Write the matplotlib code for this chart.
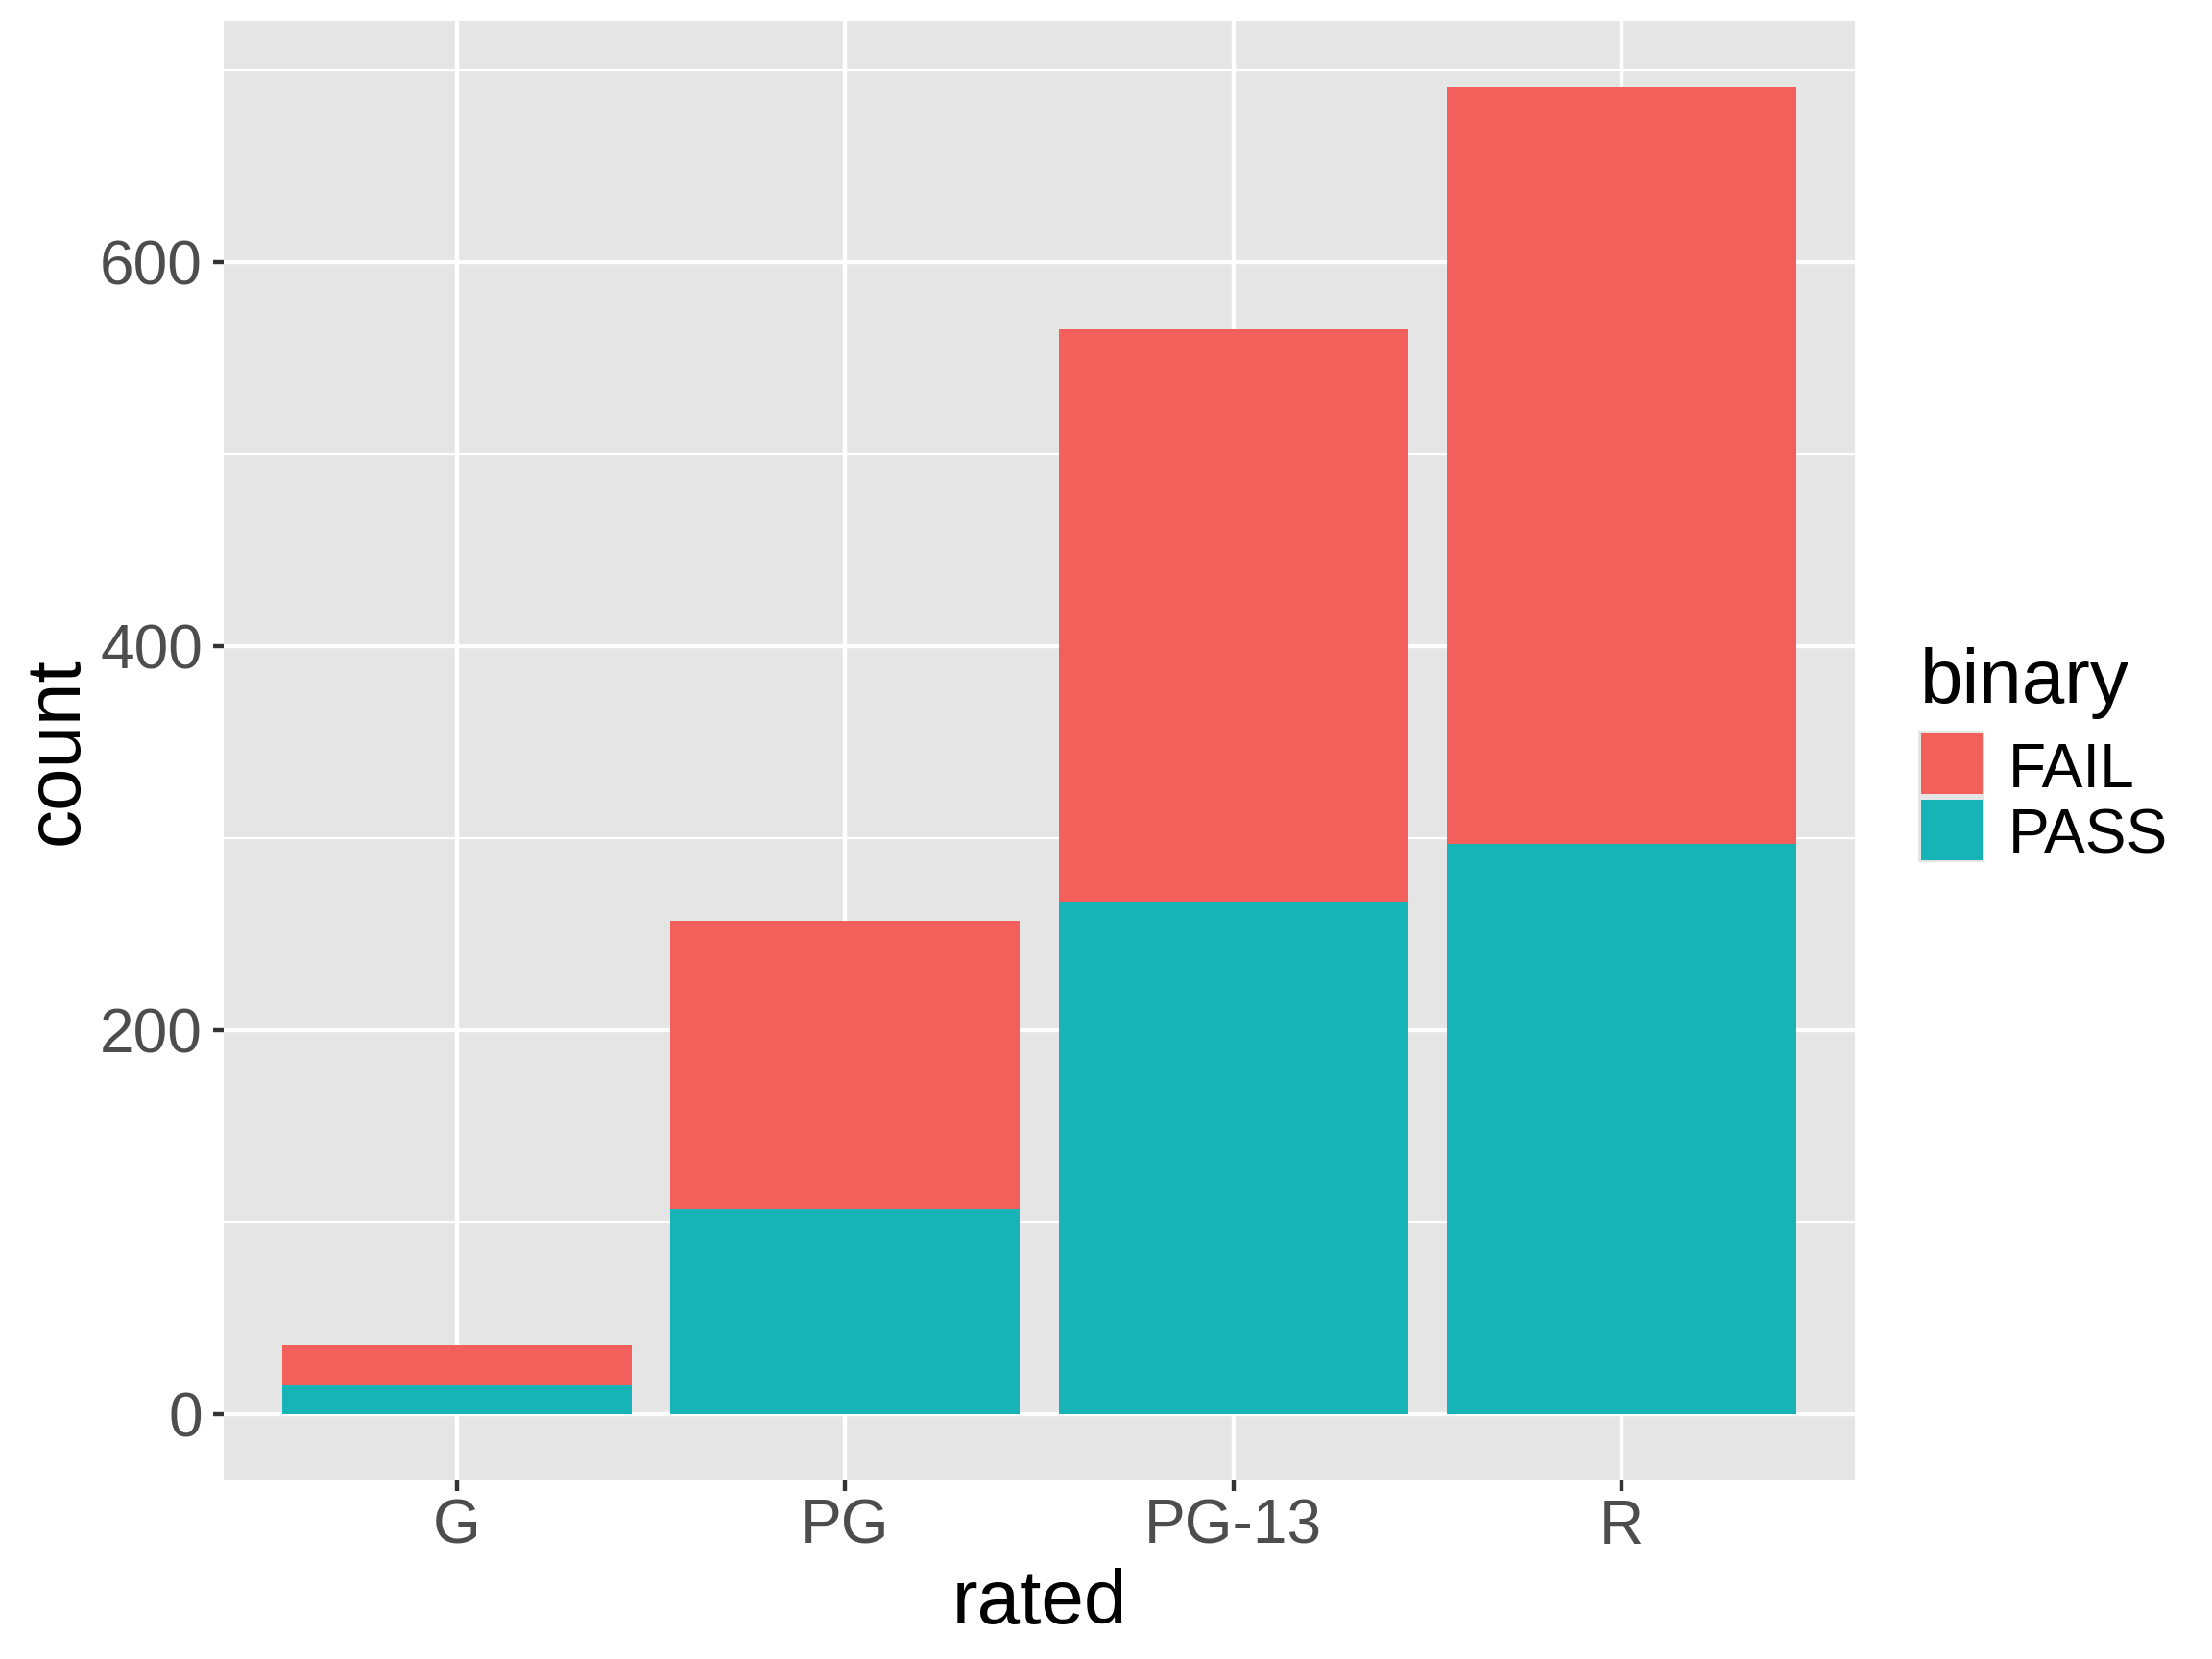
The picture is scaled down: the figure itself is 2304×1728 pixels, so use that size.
import numpy as np
import matplotlib
matplotlib.use('Agg')
import matplotlib.pyplot as plt
from matplotlib.patches import Rectangle

plt.rcParams['font.family'] = ['Liberation Sans', 'DejaVu Sans']

# counts
rated = ['G', 'PG', 'PG-13', 'R']
pass_counts = [15, 107, 267, 297]
fail_counts = [21, 150, 298, 394]
groups = ['FAIL', 'PASS']
colors = {'FAIL': '#F3605B', 'PASS': '#18B3B7'}

W, H = 2304, 1728
fig = plt.figure(figsize=(8, 6), dpi=288)

def fx(px):
    return px / W

def fy(py):
    return 1 - py / H

# panel placement (pixels in the 2304x1728 image)
left, right, top, bottom = 233, 1932, 22, 1541.7
ax = fig.add_axes([fx(left), fy(bottom), fx(right - left), (bottom - top) / H])
ax.set_facecolor('#E5E5E5')

x = np.arange(len(rated))
ax.bar(x, pass_counts, width=0.9, color=colors['PASS'], zorder=3)
ax.bar(x, fail_counts, width=0.9, bottom=pass_counts, color=colors['FAIL'], zorder=3)

totals = np.array(pass_counts) + np.array(fail_counts)
ymax = totals.max()
ax.set_ylim(-0.05 * ymax, 1.05 * ymax)
ax.set_xlim(-0.6, len(rated) - 0.4)

ax.set_xticks(x)
ax.set_xticklabels(rated)
ax.set_yticks([0, 200, 400, 600])
ax.set_yticks([100, 300, 500, 700], minor=True)

ax.grid(which='major', axis='both', color='white', linewidth=1.1, zorder=1)
ax.grid(which='minor', axis='y', color='white', linewidth=0.55, zorder=1)
ax.set_axisbelow(True)
for s in ax.spines.values():
    s.set_visible(False)

ax.tick_params(axis='both', which='major', length=2.75, width=1.1, color='#333333',
               labelcolor='#4D4D4D', labelsize=16)
ax.tick_params(axis='x', pad=2.0)
ax.tick_params(axis='y', pad=2.75)
ax.tick_params(axis='y', which='minor', length=0)

# axis titles
fig.text(fx(81), fy(782), 'count', rotation=90, rotation_mode='anchor',
         ha='center', va='baseline', fontsize=20, color='black')
fig.text(fx(1082.5), fy(1691), 'rated', ha='center', va='baseline',
         fontsize=20, color='black')

# legend
fig.text(fx(2000), fy(731.7), 'binary', ha='left', va='baseline', fontsize=20, color='black')
fig.patches.append(Rectangle((fx(1998), fy(898)), fx(69), 137 / H,
                             transform=fig.transFigure, facecolor='#E5E5E5',
                             edgecolor='none'))
key_tops = [764, 833]
label_base = [820, 888.3]
for g, kt, lb in zip(groups, key_tops, label_base):
    fig.patches.append(Rectangle((fx(2001), fy(kt + 63)), fx(64), 63 / H,
                                 transform=fig.transFigure, facecolor=colors[g],
                                 edgecolor='none'))
    fig.text(fx(2092), fy(lb), g, ha='left', va='baseline', fontsize=16, color='black')

fig.savefig('out.png', dpi=288)
